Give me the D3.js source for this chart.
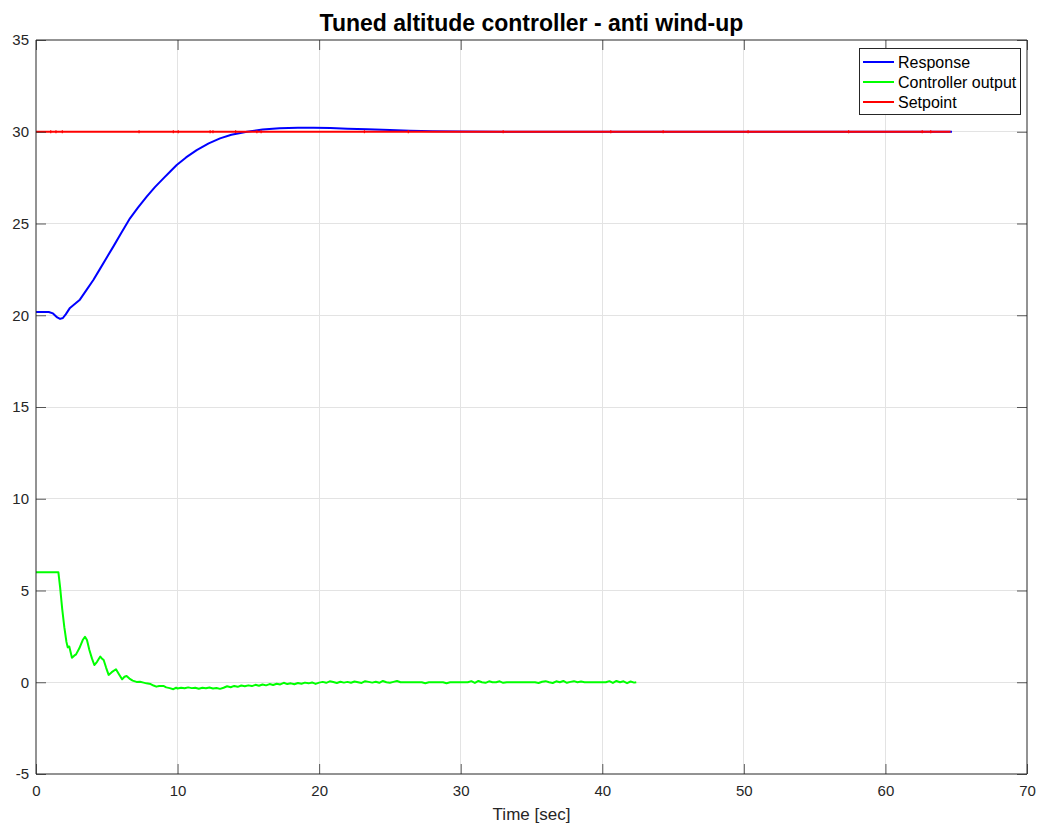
<!DOCTYPE html>
<html>
<head>
<meta charset="utf-8">
<script src="https://cdn.jsdelivr.net/npm/d3@7"></script>
<style>
  html, body { margin: 0; padding: 0; background: #fff; }
  svg { display: block; font-family: "Liberation Sans", Arial, Helvetica, sans-serif; }
</style>
</head>
<body>
<svg id="chart" width="1041" height="825"></svg>
<script>
// ---- data ----
const chartTitle = "Tuned altitude controller - anti wind-up";
const xLabel = "Time [sec]";
const xTicks = [0, 10, 20, 30, 40, 50, 60, 70];
const yTicks = [-5, 0, 5, 10, 15, 20, 25, 30, 35];
const seriesNames = ["Response", "Controller output", "Setpoint"];
const seriesColors = ["#0000ff", "#00ff00", "#ff0000"];

const responseData = [
  [0,20.18],[0.9,20.18],[1.2,20.1],[1.5,19.88],[1.7,19.8],[1.9,19.85],[2.1,20.05],
  [2.4,20.4],[2.8,20.65],[3.1,20.85],[3.5,21.3],[4.05,21.92],[4.5,22.5],[5.0,23.15],
  [5.46,23.74],[6.0,24.45],[6.64,25.28],[7.2,25.87],[7.82,26.46],[8.4,26.98],[9.0,27.46],
  [9.5,27.85],[9.94,28.19],[10.6,28.6],[11.35,29.0],[12.2,29.37],[13.0,29.64],[13.8,29.84],
  [14.9,30.0],[16.0,30.12],[17.2,30.19],[18.5,30.22],[19.6,30.22],[20.8,30.2],[22.0,30.17],
  [23.4,30.13],[25.0,30.09],[26.4,30.06],[28.0,30.03],[30,30.01],[33,30.0],[64.7,30.0]
];

const controllerData = [
  [0,6],[1.58,6],[1.7,5.2],[1.85,4.0],[2.0,3.0],[2.15,2.2],[2.24,1.9],[2.35,1.95],[2.54,1.34],
  [2.7,1.45],[2.83,1.52],[3.06,1.85],[3.3,2.3],[3.46,2.48],[3.6,2.3],[3.77,1.76],[3.95,1.3],
  [4.12,0.94],[4.3,1.1],[4.54,1.4],[4.65,1.3],[4.78,1.21],[4.95,0.8],[5.13,0.4],[5.35,0.55],
  [5.65,0.71],[5.85,0.45],[6.08,0.16],[6.25,0.3],[6.4,0.34],[6.6,0.2],[6.83,0.09],[7.1,0.02],
  [7.35,0.03],[7.6,-0.02],[7.8,-0.06],[8.1,-0.1],[8.3,-0.18],[8.5,-0.24],[8.7,-0.2],[9.0,-0.2],
  [9.2,-0.28],[9.45,-0.32],[9.7,-0.38],[9.9,-0.3],
  [10.0,-0.34],[10.25,-0.30],[10.5,-0.33],[10.75,-0.28],[11.0,-0.32],[11.25,-0.30],[11.5,-0.35],
  [11.75,-0.30],[12.0,-0.33],[12.25,-0.29],[12.5,-0.34],[12.75,-0.31],[13.0,-0.36],[13.25,-0.30],
  [13.5,-0.22],[13.75,-0.27],[14.0,-0.20],[14.25,-0.25],[14.5,-0.18],[14.75,-0.22],[15.0,-0.17],
  [15.25,-0.21],[15.5,-0.14],[15.75,-0.19],[16.0,-0.12],[16.25,-0.17],[16.5,-0.10],[16.75,-0.15],
  [17.0,-0.08],[17.25,-0.12],[17.5,-0.03],[17.75,-0.10],[18.0,-0.06],[18.25,-0.11],[18.5,-0.04],
  [18.75,-0.08],[19.0,-0.02],[19.25,-0.06],[19.5,-0.01],[19.75,-0.09],[20.0,-0.02],[20.25,0.02],
  [20.5,-0.03],[20.75,0.05],[21.0,0.01],[21.25,-0.04],[21.5,0.03],[21.75,-0.02],[22.0,0.02],
  [22.25,-0.03],[22.5,0.04],[22.75,0.0],[23.0,-0.04],[23.25,0.06],[23.5,0.02],[23.75,-0.02],
  [24.0,0.03],[24.25,-0.03],[24.5,0.07],[24.75,0.0],[25.0,-0.03],[25.25,0.02],[25.5,0.07],
  [25.75,0.0],[26.0,0.0],[27.25,0.0],[27.5,-0.05],[27.75,0.0],[28.75,0.0],[29.0,-0.05],
  [29.25,0.0],[30.5,0.0],[30.75,0.06],[31.0,-0.04],[31.25,0.07],[31.5,0.0],[31.75,-0.03],
  [32.0,0.05],[32.25,0.0],[32.5,0.0],[32.75,0.05],[33.0,-0.03],[33.25,0.0],[35.25,0.0],
  [35.5,-0.04],[35.75,0.03],[36.0,0.06],[36.25,0.0],[36.5,-0.04],[36.75,0.05],[37.0,0.0],
  [37.25,0.07],[37.5,-0.03],[37.75,0.02],[38.0,0.06],[38.25,0.0],[38.5,0.04],[38.75,0.0],
  [40.25,0.0],[40.5,0.06],[40.75,-0.04],[41.0,0.07],[41.25,0.0],[41.5,0.05],[41.75,-0.05],
  [42.0,0.04],[42.25,-0.02],[42.4,0.0]
];

const setpointData = [[0,30],[64.6,30]];
const setpointBlips = [1.04, 1.41, 1.86, 7.28, 9.7, 10.05, 12.3, 12.5, 14.1, 15.6, 15.9, 23.2, 26.3, 33.0, 40.6, 44.3, 50.3, 57.4, 62.6, 63.2];

// ---- layout ----
const svg = d3.select("#chart");
const margin = { left: 36, right: 1041 - 1027, top: 40, bottom: 825 - 774 };
const W = 1041, H = 825;
const x = d3.scaleLinear().domain([0, 70]).range([margin.left, W - margin.right]);
const y = d3.scaleLinear().domain([-5, 35]).range([H - margin.bottom, margin.top]);
const axisColor = "#262626";
const gridColor = "#e3e3e3";
const fontFam = "'Liberation Sans', Arial, Helvetica, sans-serif";

// grid
const g = svg.append("g");
g.selectAll(".vg").data(xTicks.slice(1, -1)).enter().append("line")
  .attr("x1", d => x(d)).attr("x2", d => x(d))
  .attr("y1", y(-5)).attr("y2", y(35))
  .attr("stroke", gridColor).attr("stroke-width", 1).attr("shape-rendering", "crispEdges");
g.selectAll(".hg").data(yTicks.slice(1, -1)).enter().append("line")
  .attr("y1", d => y(d)).attr("y2", d => y(d))
  .attr("x1", x(0)).attr("x2", x(70))
  .attr("stroke", gridColor).attr("stroke-width", 1).attr("shape-rendering", "crispEdges");

// lines
const line = d3.line().x(d => x(d[0])).y(d => y(d[1]));
const plot = svg.append("g");
plot.append("path").datum(responseData).attr("d", line)
  .attr("fill", "none").attr("stroke", seriesColors[0]).attr("stroke-width", 2).attr("stroke-linejoin", "round");
plot.append("path").datum(controllerData).attr("d", line)
  .attr("fill", "none").attr("stroke", seriesColors[1]).attr("stroke-width", 2).attr("stroke-linejoin", "round");
plot.append("path").datum(setpointData).attr("d", line)
  .attr("fill", "none").attr("stroke", seriesColors[2]).attr("stroke-width", 2);
plot.selectAll(".blip").data(setpointBlips).enter().append("line")
  .attr("x1", d => x(d)).attr("x2", d => x(d))
  .attr("y1", y(30.08)).attr("y2", y(29.92))
  .attr("stroke", seriesColors[2]).attr("stroke-width", 1.2);

// axes (MATLAB style box with inward ticks)
const tickLen = 10;
const fmt = d => String(d);
const xAxisB = d3.axisBottom(x).tickValues(xTicks).tickSize(-tickLen).tickPadding(11).tickFormat(fmt);
const xAxisT = d3.axisTop(x).tickValues(xTicks).tickSize(-tickLen).tickFormat("");
const yAxisL = d3.axisLeft(y).tickValues(yTicks).tickSize(-tickLen).tickPadding(7).tickFormat(fmt);
const yAxisR = d3.axisRight(y).tickValues(yTicks).tickSize(-tickLen).tickFormat("");

function styleAxis(sel) {
  sel.select(".domain").attr("stroke", axisColor).attr("stroke-width", 1);
  sel.selectAll(".tick line").attr("stroke", axisColor).attr("stroke-width", 1).attr("stroke-opacity", 0.75);
  sel.selectAll(".tick text").attr("fill", axisColor).style("font-size", "15px")
    .style("font-family", fontFam);
}
const gxb = svg.append("g").attr("transform", `translate(0,${y(-5)})`).call(xAxisB).call(styleAxis);
gxb.select(".domain").attr("d", `M${x(0)},0H${x(70)}`);
const gxt = svg.append("g").attr("transform", `translate(0,${y(35)})`).call(xAxisT).call(styleAxis);
gxt.select(".domain").attr("d", `M${x(0)},0H${x(70)}`);
const gyl = svg.append("g").attr("transform", `translate(${x(0)},0)`).call(yAxisL).call(styleAxis);
gyl.select(".domain").attr("d", `M0,${y(-5)}V${y(35)}`);
const gyr = svg.append("g").attr("transform", `translate(${x(70)},0)`).call(yAxisR).call(styleAxis);
gyr.select(".domain").attr("d", `M0,${y(-5)}V${y(35)}`);

// title & label
svg.append("text").attr("x", (x(0) + x(70)) / 2).attr("y", 31)
  .attr("text-anchor", "middle").style("font-size", "23px").style("font-weight", "bold")
  .style("font-family", fontFam).attr("fill", "#000").text(chartTitle);
svg.append("text").attr("x", (x(0) + x(70)) / 2).attr("y", 820)
  .attr("text-anchor", "middle").style("font-size", "17px").style("font-family", fontFam)
  .attr("fill", axisColor).text(xLabel);

// legend
const lg = svg.append("g").attr("transform", "translate(859,48)");
lg.append("rect").attr("x", 0.5).attr("y", 0.5).attr("width", 161).attr("height", 66)
  .attr("fill", "#fff").attr("stroke", axisColor).attr("stroke-width", 1);
seriesNames.forEach((name, i) => {
  const yy = 14 + i * 20;
  lg.append("line").attr("x1", 4).attr("x2", 35).attr("y1", yy).attr("y2", yy)
    .attr("stroke", seriesColors[i]).attr("stroke-width", 2);
  lg.append("text").attr("x", 39).attr("y", yy + 5.5).style("font-size", "16px")
    .style("font-family", fontFam).attr("fill", "#000").text(name);
});
</script>
</body>
</html>
